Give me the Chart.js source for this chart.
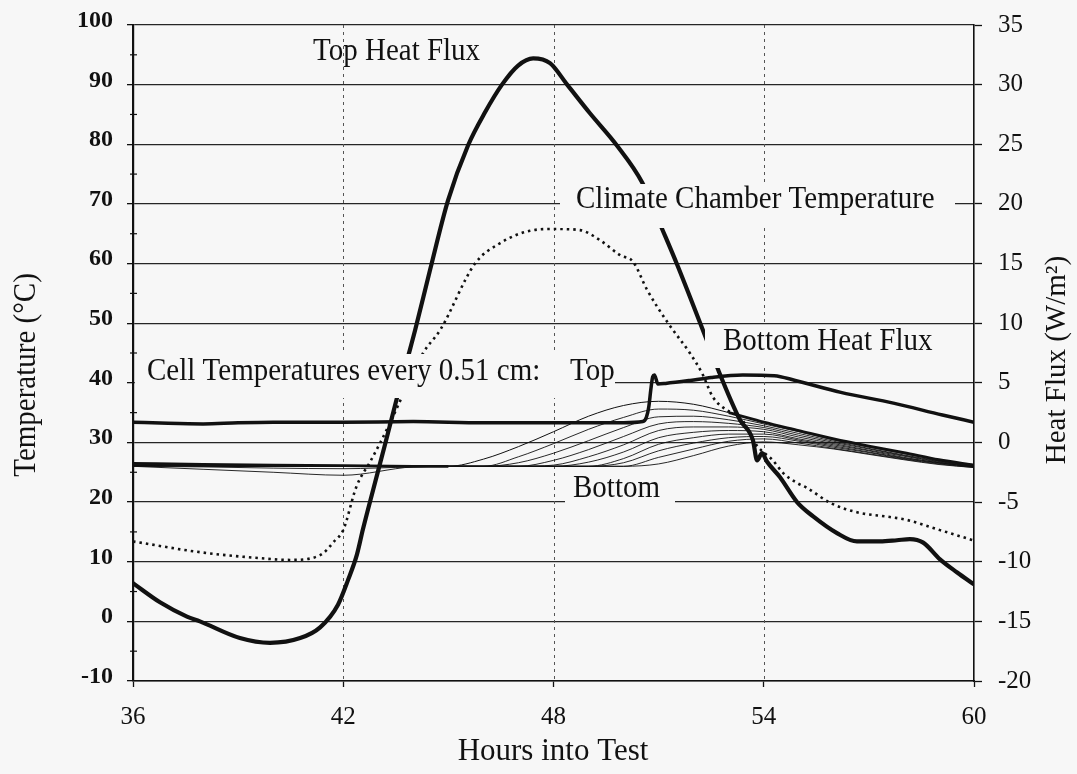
<!DOCTYPE html>
<html><head><meta charset="utf-8">
<script src="https://cdn.jsdelivr.net/npm/chart.js@4/dist/chart.umd.min.js"></script>
<style>html,body{margin:0;padding:0;background:#f7f7f7;overflow:hidden;}canvas{display:block;}</style>
</head><body>
<canvas id="c" width="1077" height="774"></canvas>
<script>
// ---------- data ----------
const hourTicks = [36, 42, 48, 54, 60];
const tempTicks = [-10, 0, 10, 20, 30, 40, 50, 60, 70, 80, 90, 100];
const fluxTicks = [-20, -15, -10, -5, 0, 5, 10, 15, 20, 25, 30, 35];

// Top heat flux (W/m2, right axis)
const topFluxHours = [36.00,36.77,37.54,37.91,39.05,39.91,40.77,41.34,41.85,42.14,42.39,42.56,42.85,43.19,43.53,43.85,44.05,44.48,44.99,45.56,46.05,46.53,46.99,47.42,47.90,48.39,49.04,49.81,50.53,51.10,51.53,52.41,52.67,53.32,53.69,53.81,53.95,54.09,54.46,54.95,55.41,56.09,56.66,57.32,57.80,58.17,58.55,59.03,59.52,60.00];
const topFlux = [-11.8,-13.4,-14.6,-15.0,-16.4,-16.8,-16.4,-15.5,-13.6,-11.5,-9.4,-7.3,-4.0,-0.2,3.7,7.2,9.4,14.5,20.3,24.9,27.7,30.0,31.6,32.2,31.8,30.0,27.6,24.9,21.8,17.9,14.9,8.3,6.3,1.9,0.2,-1.5,-0.9,-1.6,-2.9,-5.0,-6.2,-7.6,-8.3,-8.3,-8.2,-8.1,-8.4,-9.8,-10.9,-11.9];

// Bottom heat flux (W/m2, right axis)
const bottomFluxHours = [36,37,38,39,40,42,44,46,48,50,50.55,50.65,50.72,50.78,50.83,50.88,50.98,51.2,51.9,52.5,53.4,54.3,54.9,56.2,57.7,59.1,60];
const bottomFlux = [1.7,1.6,1.55,1.65,1.7,1.7,1.75,1.65,1.65,1.65,1.75,2.1,3.0,4.5,5.5,5.65,4.9,4.95,5.2,5.45,5.65,5.6,5.2,4.2,3.3,2.3,1.7];

// Climate chamber temperature (deg C, left axis)
const chamberHours = [36.00,37.91,39.62,40.48,41.34,41.77,42.00,42.37,42.79,43.05,43.28,44.28,44.77,45.76,46.47,47.33,48.04,48.76,49.33,49.90,50.27,50.67,51.27,51.89,52.24,52.55,52.95,53.32,53.80,54.26,54.55,54.95,55.23,55.89,56.66,57.60,58.09,59.03,59.97];
const chamberTemp = [13.4,11.6,10.6,10.3,11.1,13.6,15.3,22.5,27.0,29.9,32.6,45.0,48.9,60.0,63.4,65.5,65.8,65.6,63.9,61.4,60.3,55.6,50.0,45.0,41.6,37.6,35.4,34.3,29.5,27.0,24.9,23.2,22.4,19.9,18.3,17.5,17.0,15.3,13.6];

// Cell temperatures every 0.51 cm (deg C, left axis), top to bottom
const cellHours = [36,38,40,42,44,45,46,47,48,49,50,51,52,53,54,55,56,57,58,59,60];
const cell1  = [26.5,26.3,26.2,26.1,26.0,26.0,27.2,29.3,31.8,34.4,36.2,36.9,36.4,35.0,33.4,32.0,30.6,29.4,28.3,27.1,26.2];
const cell2  = [26.3,26.1,26.0,26.0,26.0,26.0,26.0,27.6,29.8,32.2,34.2,35.6,35.4,34.4,33.1,31.8,30.4,29.2,28.1,27.0,26.1];
const cell3  = [26.2,26.1,26.0,26.0,26.0,26.0,26.0,26.6,28.2,30.3,32.5,34.3,34.4,33.8,32.8,31.5,30.2,29.0,27.9,26.9,26.1];
const cell4  = [26.1,26.1,26.0,26.0,26.0,26.0,26.0,26.0,27.0,28.8,31.0,33.1,33.5,33.2,32.5,31.2,30.0,28.9,27.8,26.8,26.0];
const cell5  = [26.1,26.1,26.0,26.0,26.0,26.0,26.0,26.0,26.2,27.6,29.6,32.0,32.6,32.6,32.2,30.9,29.8,28.7,27.7,26.7,26.0];
const cell6  = [26.1,26.1,26.0,26.0,26.0,26.0,26.0,26.0,26.0,26.7,28.4,30.8,31.7,32.0,31.8,30.6,29.6,28.6,27.5,26.6,25.9];
const cell7  = [26.1,26.1,26.0,26.0,26.0,26.0,26.0,26.0,26.0,26.0,27.3,29.7,30.8,31.4,31.4,30.4,29.4,28.4,27.4,26.6,25.9];
const cell8  = [26.1,26.0,26.0,26.0,26.0,26.0,26.0,26.0,26.0,26.0,26.6,28.6,29.9,30.8,31.0,30.2,29.2,28.3,27.3,26.5,25.9];
const cell9  = [26.0,25.9,25.7,25.6,25.9,26.0,26.0,26.0,26.0,26.0,26.0,27.5,28.9,30.2,30.6,29.9,29.0,28.1,27.2,26.4,25.8];
const cell10 = [26.0,25.5,25.0,24.5,25.9,26.0,26.0,26.0,26.0,26.0,26.0,26.4,27.8,29.4,30.1,29.6,28.9,28.0,27.1,26.3,25.8];

// ---------- chart ----------
const ink = '#111111';
const bg = '#f7f7f7';
const serif = '"Liberation Serif", "Times New Roman", serif';
Chart.defaults.font.family = serif;

function pts(xs, ys) { return xs.map((x, i) => ({ x: x, y: ys[i] })); }

const cells = [cell1, cell2, cell3, cell4, cell5, cell6, cell7, cell8, cell9, cell10];
const cellSets = cells.map((c, k) => {
  const ds = {
    label: 'Cell ' + (k + 1),
    data: pts(cellHours, c),
    yAxisID: 'y',
    borderColor: ink,
    borderWidth: 0.9,
    pointRadius: 0,
    cubicInterpolationMode: 'monotone'
  };
  if (k === 0) {
    ds.segment = { borderWidth: ctx => (ctx.p0.parsed.x < 45 || ctx.p0.parsed.x >= 53) ? 2.8 : 1.0 };
  }
  return ds;
});

function drawText(ctx, text, x, y, opt) {
  opt = opt || {};
  ctx.save();
  ctx.font = (opt.size || 29) + 'px ' + serif;
  ctx.fillStyle = ink;
  ctx.textAlign = opt.align || 'left';
  ctx.textBaseline = 'alphabetic';
  ctx.translate(x, y);
  if (opt.rot) ctx.rotate(opt.rot);
  ctx.scale(1, opt.sy || 1.12);
  ctx.fillText(text, 0, 0);
  ctx.restore();
}

const deco = {
  id: 'deco',
  beforeDraw(chart) {
    const c = chart.ctx;
    c.save(); c.fillStyle = bg; c.fillRect(0, 0, chart.width, chart.height); c.restore();
  },
  beforeDatasetsDraw(chart) {
    const { ctx, chartArea: a, scales: { x, y } } = chart;
    ctx.save();
    ctx.strokeStyle = '#555'; ctx.lineWidth = 1; ctx.setLineDash([3, 4]);
    x.ticks.forEach(t => {
      if (t.value <= x.min || t.value >= x.max) return;
      const px = Math.round(x.getPixelForValue(t.value)) + 0.5;
      ctx.beginPath(); ctx.moveTo(px, a.top); ctx.lineTo(px, a.bottom); ctx.stroke();
    });
    ctx.setLineDash([]); ctx.strokeStyle = ink; ctx.lineWidth = 1.2;
    y.ticks.forEach(t => {
      const v = t.value + 5;
      if (v >= y.max) return;
      const py = y.getPixelForValue(v);
      ctx.beginPath(); ctx.moveTo(a.left - 3, py); ctx.lineTo(a.left + 4, py); ctx.stroke();
    });
    ctx.restore();
  },
  afterDatasetsDraw(chart) {
    const ctx = chart.ctx;
    ctx.save();
    ctx.fillStyle = bg;
    [[135, 354, 480, 44], [560, 184, 395, 44], [705, 326, 240, 42], [565, 474, 110, 32]].forEach(r => ctx.fillRect(r[0], r[1], r[2], r[3]));
    ctx.restore();
    drawText(ctx, 'Top Heat Flux', 313, 60);
    drawText(ctx, 'Climate Chamber Temperature', 576, 208);
    drawText(ctx, 'Bottom Heat Flux', 723, 350);
    drawText(ctx, 'Cell Temperatures every 0.51 cm:', 147, 380);
    drawText(ctx, 'Top', 570, 380);
    drawText(ctx, 'Bottom', 573, 497);
    drawText(ctx, 'Temperature (°C)', 35, 375, { rot: -Math.PI / 2, align: 'center' });
    drawText(ctx, 'Heat Flux (W/m²)', 1065, 360, { rot: -Math.PI / 2, align: 'center', sy: 1.0 });
    drawText(ctx, 'Hours into Test', 553, 760, { align: 'center', size: 31, sy: 1.05 });
  }
};

new Chart(document.getElementById('c'), {
  type: 'line',
  data: {
    datasets: [
      { label: 'Top Heat Flux', data: pts(topFluxHours, topFlux), yAxisID: 'y2', borderColor: ink, borderWidth: 4.2, pointRadius: 0, cubicInterpolationMode: 'monotone', borderCapStyle: 'round', borderJoinStyle: 'round' },
      { label: 'Bottom Heat Flux', data: pts(bottomFluxHours, bottomFlux), yAxisID: 'y2', borderColor: ink, borderWidth: 3.5, pointRadius: 0, cubicInterpolationMode: 'monotone', borderJoinStyle: 'round' },
      { label: 'Climate Chamber Temperature', data: pts(chamberHours, chamberTemp), yAxisID: 'y', borderColor: ink, borderWidth: 2.6, borderDash: [2.5, 4], pointRadius: 0, cubicInterpolationMode: 'monotone' }
    ].concat(cellSets)
  },
  options: {
    responsive: false,
    animation: false,
    events: [],
    layout: { padding: { top: 25, left: 0, right: 0, bottom: 0 } },
    plugins: { legend: { display: false }, tooltip: { enabled: false } },
    scales: {
      x: {
        type: 'linear', min: 36, max: 60,
        afterBuildTicks: s => { s.ticks = hourTicks.map(v => ({ value: v })); },
        grid: { drawOnChartArea: false, drawTicks: true, tickLength: 6, tickColor: ink, tickWidth: 1.3 },
        border: { display: true, color: ink, width: 1.6 },
        ticks: { color: ink, font: { family: serif, size: 25 }, padding: 15, maxRotation: 0, autoSkip: false },
        afterFit: s => { s.height = 93; }
      },
      y: {
        type: 'linear', position: 'left', min: -10, max: 100,
        afterBuildTicks: s => { s.ticks = tempTicks.map(v => ({ value: v })); },
        grid: { color: '#262626', lineWidth: 1.3, tickLength: 6, tickColor: ink, tickWidth: 1.3 },
        border: { display: true, color: ink, width: 2.2 },
        ticks: { color: ink, font: { family: serif, size: 24, weight: 'bold', lineHeight: 0.36 }, padding: 14, autoSkip: false,
                 callback: v => [String(v), ''] },
        afterFit: s => { s.width = 133; s.paddingTop = 0; s.paddingBottom = 0; }
      },
      y2: {
        type: 'linear', position: 'right', min: -20, max: 35,
        afterBuildTicks: s => { s.ticks = fluxTicks.map(v => ({ value: v })); },
        grid: { drawOnChartArea: false, tickLength: 8, tickColor: ink, tickWidth: 1.3 },
        border: { display: true, color: ink, width: 1.6 },
        ticks: { color: ink, font: { family: serif, size: 25 }, padding: 16, autoSkip: false },
        afterFit: s => { s.width = 103; s.paddingTop = 0; s.paddingBottom = 0; }
      }
    }
  },
  plugins: [deco]
});
</script>
</body></html>
